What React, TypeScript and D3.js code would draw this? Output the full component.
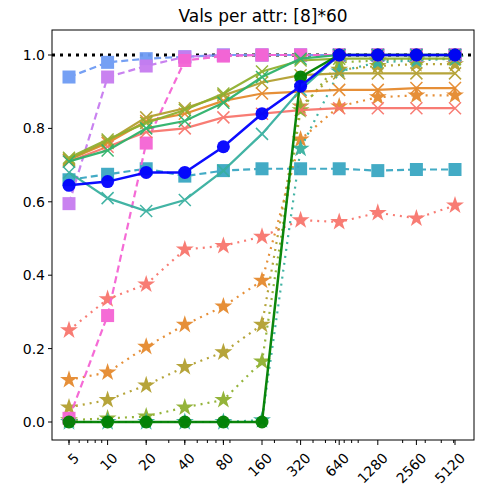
import React from 'react';
import * as d3 from 'd3';

const xVals = [5, 10, 20, 40, 80, 160, 320, 640, 1280, 2560, 5120];
const yTicks = [0, 0.2, 0.4, 0.6, 0.8, 1.0];

type Series = { color: string; marker: 'circle' | 'square' | 'x' | 'star'; dash: string; values: number[] };

const squareSeries: Series[] = [
  { color: '#39a7c2', marker: 'square', dash: '7,4', values: [0.66, 0.675, 0.69, 0.67, 0.685, 0.69, 0.69, 0.69, 0.685, 0.688, 0.688] },
  { color: '#6e9bf4', marker: 'square', dash: '7,4', values: [0.94, 0.98, 0.99, 0.995, 1, 1, 1, 1, 1, 1, 1] },
  { color: '#c77cf0', marker: 'square', dash: '7,4', values: [0.595, 0.94, 0.97, 0.995, 1, 1, 1, 1, 1, 1, 1] },
  { color: '#f564d4', marker: 'square', dash: '7,4', values: [0.01, 0.29, 0.76, 0.985, 0.997, 1, 1, 1, 1, 1, 1] },
];
const xSeries: Series[] = [
  { color: '#f8766d', marker: 'x', dash: '', values: [0.71, 0.75, 0.79, 0.80, 0.83, 0.84, 0.85, 0.855, 0.855, 0.855, 0.855] },
  { color: '#e58a2e', marker: 'x', dash: '', values: [0.715, 0.76, 0.82, 0.84, 0.875, 0.895, 0.90, 0.905, 0.905, 0.91, 0.91] },
  { color: '#b3a030', marker: 'x', dash: '', values: [0.715, 0.765, 0.83, 0.855, 0.89, 0.925, 0.945, 0.95, 0.95, 0.95, 0.95] },
  { color: '#8fb030', marker: 'x', dash: '', values: [0.72, 0.77, 0.815, 0.85, 0.895, 0.955, 0.985, 0.99, 0.99, 0.99, 0.99] },
  { color: '#2eb36b', marker: 'x', dash: '', values: [0.71, 0.74, 0.80, 0.82, 0.87, 0.94, 0.99, 1, 1, 1, 1] },
  { color: '#38b0a0', marker: 'x', dash: '', values: [0.68, 0.61, 0.575, 0.605, 0.685, 0.785, 0.905, 1, 1, 1, 1] },
];
const starSeries: Series[] = [
  { color: '#f8766d', marker: 'star', dash: '2,5', values: [0.25, 0.335, 0.375, 0.47, 0.48, 0.505, 0.55, 0.545, 0.57, 0.555, 0.59] },
  { color: '#e58a2e', marker: 'star', dash: '2,5', values: [0.115, 0.135, 0.205, 0.265, 0.315, 0.385, 0.77, 0.86, 0.885, 0.89, 0.89] },
  { color: '#b3a030', marker: 'star', dash: '2,5', values: [0.04, 0.06, 0.1, 0.15, 0.19, 0.265, 0.86, 0.96, 0.97, 0.975, 0.975] },
  { color: '#8fb030', marker: 'star', dash: '2,5', values: [0.005, 0.01, 0.015, 0.04, 0.06, 0.165, 0.85, 0.98, 0.985, 0.99, 0.99] },
  { color: '#38b0a0', marker: 'star', dash: '2,5', values: [0, 0, 0, 0, 0, 0.005, 0.745, 0.955, 0.98, 0.985, 0.99] },
];
const circleSeries: Series[] = [
  { color: '#008000', marker: 'circle', dash: '', values: [0, 0, 0, 0, 0, 0, 0.94, 1, 1, 1, 1] },
  { color: '#0000ff', marker: 'circle', dash: '', values: [0.645, 0.655, 0.68, 0.68, 0.75, 0.84, 0.915, 1, 1, 1, 1] },
];

const allSeries = [...starSeries, ...squareSeries, ...xSeries, ...circleSeries];

const W = 492, H = 500;
const m = { left: 52, right: 474, top: 30, bottom: 440 };

const starPath = d3.symbol(d3.symbolStar, 100)()!;

function Marker({ s, x, y }: { s: Series; x: number; y: number }) {
  if (s.marker === 'circle') return <circle cx={x} cy={y} r={6.5} fill={s.color} />;
  if (s.marker === 'square') return <rect x={x - 6.5} y={y - 6.5} width={13} height={13} fill={s.color} />;
  if (s.marker === 'star') return <path d={starPath} transform={`translate(${x},${y})`} fill={s.color} />;
  return (
    <path d={`M${x - 6},${y - 6}L${x + 6},${y + 6}M${x - 6},${y + 6}L${x + 6},${y - 6}`} stroke={s.color} strokeWidth={1.5} fill="none" />
  );
}

export default function App() {
  const x = d3.scaleLog().base(2).domain([5, 5120]).range([69, 455]);
  const y = d3.scaleLinear().domain([0, 1]).range([422, 55]);
  const line = d3.line<number>().x((_, i) => x(xVals[i])).y(d => y(d));
  const minor: number[] = [];
  for (let e = 0; e < 4; e++) for (let k = 2; k < 10; k++) {
    const v = k * Math.pow(10, e);
    if (v >= 4.3 && v <= 5800) minor.push(v);
  }
  return (
    <svg width={W} height={H} style={{ fontFamily: 'DejaVu Sans', display: 'block', position: 'absolute', left: 0, top: 0 }}>
      <rect width={W} height={H} fill="white" />
      <text x={(m.left + m.right) / 2} y={22} textAnchor="middle" fontSize={17}>Vals per attr: [8]*60</text>
      <line x1={m.left} x2={m.right} y1={y(1)} y2={y(1)} stroke="black" strokeWidth={3} strokeDasharray="3,5" />
      {allSeries.map((s, i) => (
        <g key={i} opacity={0.95}>
          <path d={line(s.values)!} fill="none" stroke={s.color} strokeWidth={s.marker === 'circle' ? 2.5 : 2.2} strokeDasharray={s.dash} />
          {s.values.map((v, j) => <Marker key={j} s={s} x={x(xVals[j])} y={y(v)} />)}
        </g>
      ))}
      <rect x={m.left} y={m.top} width={m.right - m.left} height={m.bottom - m.top} fill="none" stroke="black" strokeWidth={1} />
      {yTicks.map(t => (
        <g key={t}>
          <line x1={m.left - 4} x2={m.left} y1={y(t)} y2={y(t)} stroke="black" />
          <text x={m.left - 7} y={y(t)} dy="0.35em" textAnchor="end" fontSize={14}>{t.toFixed(1)}</text>
        </g>
      ))}
      {minor.map(v => <line key={v} x1={x(v)} x2={x(v)} y1={m.bottom} y2={m.bottom + 3} stroke="black" />)}
      {xVals.map(v => (
        <g key={v}>
          <line x1={x(v)} x2={x(v)} y1={m.bottom} y2={m.bottom + 5} stroke="black" />
          <text transform={`translate(${x(v) + 4},${m.bottom + 12}) rotate(-45)`} textAnchor="end" dy="0.7em" fontSize={14}>{v}</text>
        </g>
      ))}
    </svg>
  );
}
